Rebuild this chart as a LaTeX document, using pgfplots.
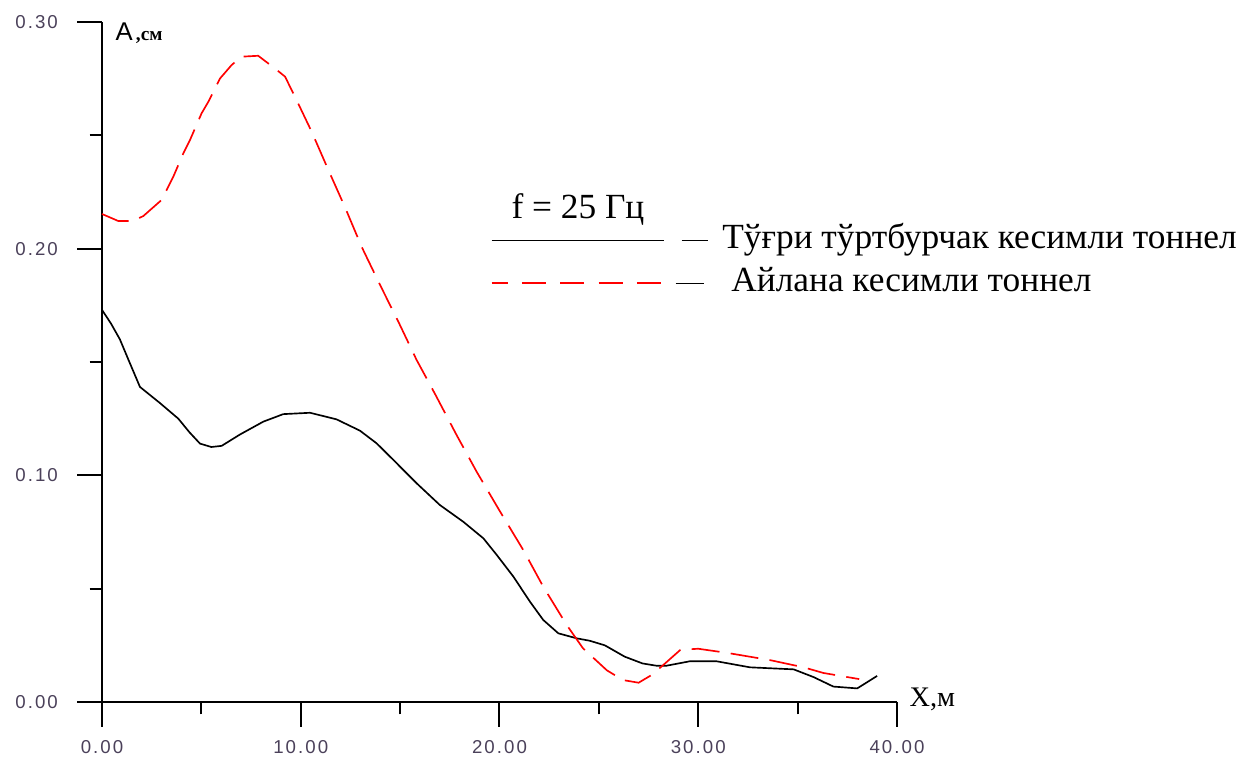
\documentclass[border=0pt]{standalone}
\usepackage{fontspec}
\setmainfont{Liberation Serif}
\newfontfamily\ticksf[LetterSpace=11]{Liberation Sans}
\newfontfamily\labsf{Liberation Sans}
\usepackage{pgfplots}
\pgfplotsset{compat=1.18}
\definecolor{tickgray}{RGB}{75,65,90}

\begin{document}
\begin{tikzpicture}
\begin{axis}[
    at={(0,0)}, anchor=origin,
    scale only axis,
    width=238.5pt, height=204pt,
    xmin=0, xmax=40, ymin=0, ymax=0.30,
    clip=false,
    axis lines=left,
    axis line style={-, line width=0.6pt},
    xtick={0,10,20,30,40},
    ytick={0,0.1,0.2,0.3},
    minor x tick num=1, minor y tick num=1,
    tick align=outside,
    major tick length=7.4pt, minor tick length=3.7pt,
    tick style={line width=0.6pt, black},
    scaled ticks=false,
    /pgf/number format/.cd, fixed, fixed zerofill, precision=2, assume math mode=true,
    /pgfplots/.cd,
    tick label style={font=\ticksf\fontsize{5.6}{6}\selectfont, text=tickgray},
    yticklabel style={xshift=-2.3pt},
    xticklabel style={yshift=-0.5pt},
    every axis y label/.style={at={(axis cs:0.65,0.2918)}, anchor=base west, inner sep=0pt},
    every axis x label/.style={at={(axis cs:40.6,-0.0018)}, anchor=base west, inner sep=0pt},
    ylabel={{\labsf\fontsize{7.7}{8}\selectfont A}{\fontsize{5.8}{6}\selectfont\bfseries\,,см}},
    xlabel={\fontsize{8.5}{9}\selectfont X,м},
    legend style={at={(axis cs:19.52,0.2113)}, anchor=north west,
        draw=none, fill=none, inner sep=0pt, row sep=2.9pt,
        /tikz/every odd column/.style={column sep=4.2pt},
        nodes={inner sep=0pt, text height=7.5pt, text depth=2.5pt,
               font=\fontsize{10.6}{12}\selectfont}},
    legend cell align=left,
]
\addplot[black, line width=0.5pt,
    legend image code/.code={
        \draw[black, line width=0.5pt] (0pt,0pt) -- (51.6pt,0pt);
        \draw[black, line width=0.5pt] (57pt,0pt) -- (64.8pt,0pt);}]
coordinates {
(0,0.173) (0.45,0.167) (0.9,0.160) (1.33,0.151) (1.91,0.139) (2.9,0.132)
(3.84,0.125) (4.4,0.119) (4.93,0.114) (5.5,0.1125) (6.02,0.113) (6.94,0.118)
(8.12,0.1237) (9.12,0.127) (10.47,0.1276) (11.8,0.1247) (12.98,0.1197)
(13.82,0.1141) (14.66,0.1068) (15.83,0.0965) (17.0,0.0869) (18.18,0.0795)
(19.19,0.0722) (19.86,0.0649) (20.7,0.0553) (21.53,0.0443) (22.2,0.0362)
(22.96,0.0303) (23.88,0.0281) (24.55,0.027) (25.3,0.025) (26.3,0.020)
(27.2,0.017) (27.9,0.016) (28.4,0.016) (29.6,0.018) (30.9,0.018)
(32.6,0.0153) (34.8,0.0144) (35.8,0.011) (36.8,0.0068) (38.0,0.006) (39.0,0.0115)
};
\addlegendentry{Тўғри тўртбурчак кесимли тоннел}

\addplot[red, line width=0.5pt, dash pattern=on 8.4pt off 3.4pt,
    legend image code/.code={
        \draw[red, line width=0.55pt, dash pattern=on 7.2pt off 4.3pt, dash phase=2.4pt] (0pt,0pt) -- (51.6pt,0pt);
        \draw[black, line width=0.5pt] (55.2pt,0pt) -- (63.6pt,0pt);}]
coordinates {
(0,0.2153) (0.82,0.2122) (1.57,0.2122) (2.08,0.2144) (3.0,0.2215) (3.59,0.2318)
(4.09,0.242) (4.43,0.248) (5.01,0.2597) (5.35,0.2648) (5.94,0.2751) (6.52,0.281)
(7.02,0.2847) (7.86,0.2851) (8.70,0.2795) (9.21,0.2759) (9.71,0.267) (10.55,0.2516)
(11.39,0.2347) (12.23,0.2182) (13.06,0.2009) (13.99,0.184) (14.91,0.1678)
(15.83,0.1509) (16.75,0.136) (17.84,0.1178) (18.85,0.1016) (20.03,0.084)
(21.2,0.067) (22.2,0.0509) (23.38,0.034) (24.2,0.0237) (25.4,0.014) (26.2,0.0097)
(27.0,0.0085) (27.65,0.0119) (28.2,0.016) (29.1,0.023) (30.0,0.0235) (31.5,0.0216)
(33.6,0.0185) (35.3,0.0153) (36.3,0.0128) (38.1,0.0101)
};
\addlegendentry{\hspace{2.7pt}Айлана кесимли тоннел}

\node[anchor=base, font=\fontsize{10.6}{12}\selectfont] at (axis cs:23.95,0.2135) {f = 25 Гц};
\end{axis}
\pgfresetboundingbox
\path[use as bounding box] (-30.6pt,-16.8pt) rectangle (342pt,210.6pt);
\end{tikzpicture}
\end{document}
